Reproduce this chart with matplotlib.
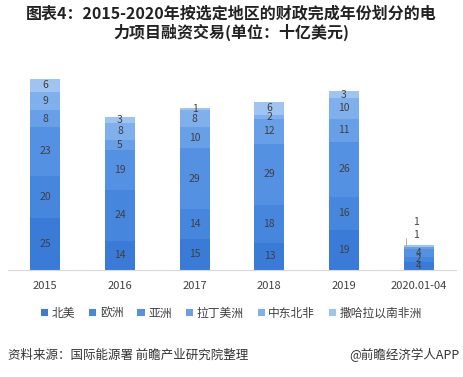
import matplotlib.pyplot as plt
import numpy as np

plt.rcParams['font.family'] = ['Noto Sans CJK SC', 'DejaVu Sans']

# --- Data ---
years = ["2015", "2016", "2017", "2018", "2019", "2020.01-04"]
regions = ["北美", "欧洲", "亚洲", "拉丁美洲", "中东北非", "撒哈拉以南非洲"]
north_america = [25, 14, 15, 13, 19, 4]
europe = [20, 24, 14, 18, 16, 2]
asia = [23, 19, 29, 29, 26, 4]
latin_america = [8, 5, 10, 12, 11, 1]
mena = [9, 8, 8, 2, 10, 0]
ssa = [6, 3, 1, 6, 3, 1]
series = [north_america, europe, asia, latin_america, mena, ssa]

colours = ["#3a7bd7", "#4786dd", "#5591e2", "#68a0e7", "#80b0ec", "#9fc4f1"]
text_col = "#404040"

fig = plt.figure(figsize=(4.63, 3.77), dpi=100)
ax = fig.add_axes([8 / 463, 1 - 270 / 377, 448 / 463, 210 / 377])

x = np.arange(len(years))
bottom = np.zeros(len(years))
handles = []
for vals, col, name in zip(series, colours, regions):
    vals = np.array(vals, dtype=float)
    h = ax.bar(x, vals, 0.4, bottom=bottom, color=col, label=name)
    handles.append(h)
    for i, v in enumerate(vals):
        if v <= 0:
            continue
        if i == len(years) - 1 and v < 2:
            continue
        fs = 7 if i == len(years) - 1 else 7.5
        ax.text(x[i], bottom[i] + v / 2, f"{int(v)}", ha="center", va="center",
                fontsize=fs, color=text_col)
    bottom += vals

# small 2020 segments labelled outside the bar
last = len(years) - 1
top_asia = north_america[last] + europe[last] + asia[last]
ax.annotate(str(latin_america[last]), xy=(x[last] - 0.17, top_asia + 0.5),
            xytext=(x[last] - 0.03, top_asia + 6.5), fontsize=7.5, color=text_col,
            ha="center", va="center",
            arrowprops=dict(arrowstyle="-", color="#a0a0a0", lw=0.6,
                            connectionstyle="angle,angleA=0,angleB=90,rad=0",
                            shrinkA=4, shrinkB=0))
ax.text(x[last] - 0.03, top_asia + 13, str(ssa[last]), ha="center", va="center",
        fontsize=7.5, color=text_col)

ax.set_xlim(-0.5, len(years) - 0.5)
ax.set_ylim(0, 100)
ax.set_yticks([])
ax.set_xticks(x)
ax.set_xticklabels(years, fontsize=8, color=text_col)
ax.tick_params(axis="x", length=0, pad=8)
for s in ["top", "right", "left"]:
    ax.spines[s].set_visible(False)
ax.spines["bottom"].set_color("#d9d9d9")

fig.text(0.5, 1 - 14 / 377, "图表4：2015-2020年按选定地区的财政完成年份划分的电",
         ha="center", va="center", fontsize=11.5, fontweight="heavy", color="#222222")
fig.text(0.5, 1 - 32 / 377, "力项目融资交易(单位：十亿美元)",
         ha="center", va="center", fontsize=11.5, fontweight="heavy", color="#222222")

fig.legend(handles=handles, loc="center", bbox_to_anchor=(0.5, 1 - 313 / 377),
           ncol=6, frameon=False, fontsize=8.5, handlelength=0.6, handleheight=0.6,
           handletextpad=0.3, columnspacing=1.2, labelcolor=text_col)

fig.text(8 / 463, 1 - 355 / 377, "资料来源：国际能源署 前瞻产业研究院整理",
         ha="left", va="center", fontsize=9, color="#333333")
fig.text(460 / 463, 1 - 355 / 377, "@前瞻经济学人APP",
         ha="right", va="center", fontsize=9, color="#333333")

fig.savefig("out.png", dpi=100)
